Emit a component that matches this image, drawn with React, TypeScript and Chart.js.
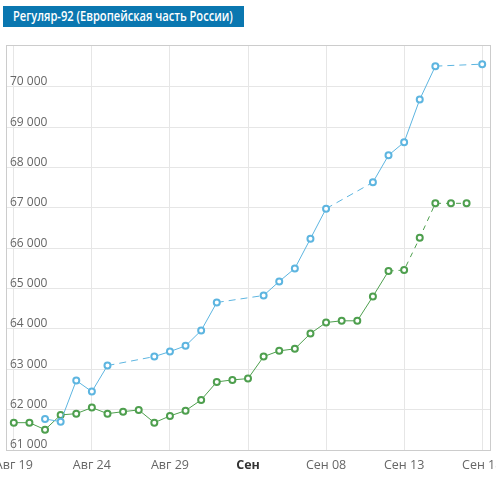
import React, { useEffect, useRef } from "react";
import { Chart, registerables } from "chart.js";

Chart.register(...registerables);

const TITLE = "Регуляр-92 (Европейская часть России)";

// day index 0 = Aug 19
const blueValues: (number | null)[] = [
  null, null, 61769, 61703, 62720, 62447, 63092, null, null, 63315,
  63439, 63580, 63960, 64655, null, null, 64829, 65177, 65499, 66236,
  66980, null, null, 67633, 68303, 68625, 69685, 70511, null, null,
  70561,
];

const greenValues: (number | null)[] = [
  61677, 61677, 61504, 61868, 61901, 62050, 61901, 61950, 61993, 61677,
  61844, 61975, 62241, 62687, 62737, 62769, 63315, 63457, 63506, 63886,
  64159, 64201, 64201, 64804, 65434, 65459, 66260, 67112, 67112, 67112,
];

const greenDashFrom = 24;

const xTickDays = [0, 5, 10, 15, 20, 25, 30];
const xTickLabels = ["Авг 19", "Авг 24", "Авг 29", "Сен", "Сен 08", "Сен 13", "Сен 18"];
const boldTickDay = 15;

const yTicks = [61000, 62000, 63000, 64000, 65000, 66000, 67000, 68000, 69000, 70000];
const yMin = 61000;
const yMax = 71035;

const BLUE = "#5db5e0";
const GREEN = "#4e9f4e";
const TITLE_TEXT_WIDTH = 220;

const fmt = (v: number) => {
  const s = Math.round(v).toString();
  return s.replace(/\B(?=(\d{3})+(?!\d))/g, " ");
};

export default function App() {
  const ref = useRef<HTMLCanvasElement | null>(null);
  const titleRef = useRef<HTMLSpanElement | null>(null);

  useEffect(() => {
    document.body.style.margin = "0";
    const span = titleRef.current;
    if (span) {
      const w = span.offsetWidth;
      if (w > 0) span.style.transform = `scaleX(${TITLE_TEXT_WIDTH / w})`;
    }
    const canvas = ref.current;
    if (!canvas) return;

    const frame = {
      id: "frame",
      beforeDatasetsDraw(chart: any) {
        const { ctx, chartArea } = chart;
        ctx.save();
        ctx.strokeStyle = "#cccccc";
        ctx.lineWidth = 1;
        ctx.strokeRect(
          Math.round(chartArea.left) + 0.5,
          Math.round(chartArea.top) + 0.5,
          Math.round(chartArea.right - chartArea.left),
          Math.round(chartArea.bottom - chartArea.top)
        );
        ctx.restore();
      },
    };

    const chart = new Chart(canvas, {
      type: "line",
      data: {
        datasets: [
          {
            label: "blue",
            data: blueValues.map((v, i) => ({ x: i, y: v })) as any,
            borderColor: BLUE,
            backgroundColor: "#ffffff",
            pointBorderColor: BLUE,
            pointBackgroundColor: "#ffffff",
            borderWidth: 1,
            pointRadius: 3,
            pointBorderWidth: 2,
            spanGaps: true,
            tension: 0,
            segment: {
              borderDash: (ctx: any) =>
                ctx.p0.skip || ctx.p1.skip ? [7, 5] : undefined,
            },
          },
          {
            label: "green",
            data: greenValues.map((v, i) => ({ x: i, y: v })) as any,
            borderColor: GREEN,
            backgroundColor: "#ffffff",
            pointBorderColor: GREEN,
            pointBackgroundColor: "#ffffff",
            borderWidth: 1,
            pointRadius: 3,
            pointBorderWidth: 2,
            spanGaps: true,
            tension: 0,
            segment: {
              borderDash: (ctx: any) =>
                ctx.p0DataIndex >= greenDashFrom ? [5, 5] : undefined,
            },
          },
        ],
      },
      options: {
        responsive: false,
        animation: false,
        layout: { padding: { left: 3, right: 6, top: 45, bottom: 3 } },
        plugins: {
          legend: { display: false },
          tooltip: { enabled: false },
          title: { display: false },
        },
        scales: {
          x: {
            type: "linear",
            min: -0.5,
            max: 30.5,
            afterBuildTicks: (scale: any) => {
              scale.ticks = xTickDays.map((v) => ({ value: v }));
            },
            afterFit: (scale: any) => {
              scale.paddingLeft = 0;
              scale.paddingRight = 0;
            },
            grid: { color: "#e6e6e6", drawTicks: false },
            border: { color: "#cccccc" },
            ticks: {
              autoSkip: false,
              maxRotation: 0,
              padding: 8,
              color: (ctx: any) => (ctx.tick && ctx.tick.value === boldTickDay ? "#333333" : "#666666"),
              font: (ctx: any) => ({
                family: "'Open Sans', sans-serif",
                size: 12.5,
                weight: ctx.tick && ctx.tick.value === boldTickDay ? "bold" : "normal",
              }),
              callback: (value: any) => {
                const i = xTickDays.indexOf(Number(value));
                return i >= 0 ? xTickLabels[i] : "";
              },
            },
          },
          y: {
            type: "linear",
            position: "left",
            min: yMin,
            max: yMax,
            afterBuildTicks: (scale: any) => {
              scale.ticks = yTicks.map((v) => ({ value: v }));
            },
            afterFit: (scale: any) => {
              scale.width = 0;
              scale.paddingTop = 0;
              scale.paddingBottom = 0;
            },
            grid: { color: "#e6e6e6", drawTicks: false },
            border: { color: "#cccccc" },
            ticks: {
              mirror: true,
              padding: 4,
              labelOffset: -5,
              color: "#666666",
              font: { family: "'Open Sans', sans-serif", size: 12 },
              callback: (value: any) => fmt(Number(value)),
            },
          },
        },
      } as any,
      plugins: [frame],
    });

    return () => chart.destroy();
  }, []);

  return (
    <div style={{ position: "relative", width: 496, height: 484, overflow: "hidden", background: "#fff" }}>
      <canvas ref={ref} width={496} height={484} style={{ position: "absolute", left: 0, top: 0 }} />
      <div
        style={{
          position: "absolute",
          left: 3,
          top: 6,
          width: 241,
          height: 21,
          background: "#0a77b0",
          color: "#ffffff",
          fontFamily: "'Open Sans', sans-serif",
          fontWeight: 600,
          fontSize: 13.5,
          lineHeight: "21px",
          paddingLeft: 10,
          boxSizing: "border-box",
          whiteSpace: "nowrap",
          overflow: "hidden",
        }}
      >
        <span
          ref={titleRef}
          style={{ display: "inline-block", transformOrigin: "0 50%" }}
        >
          {TITLE}
        </span>
      </div>
    </div>
  );
}
